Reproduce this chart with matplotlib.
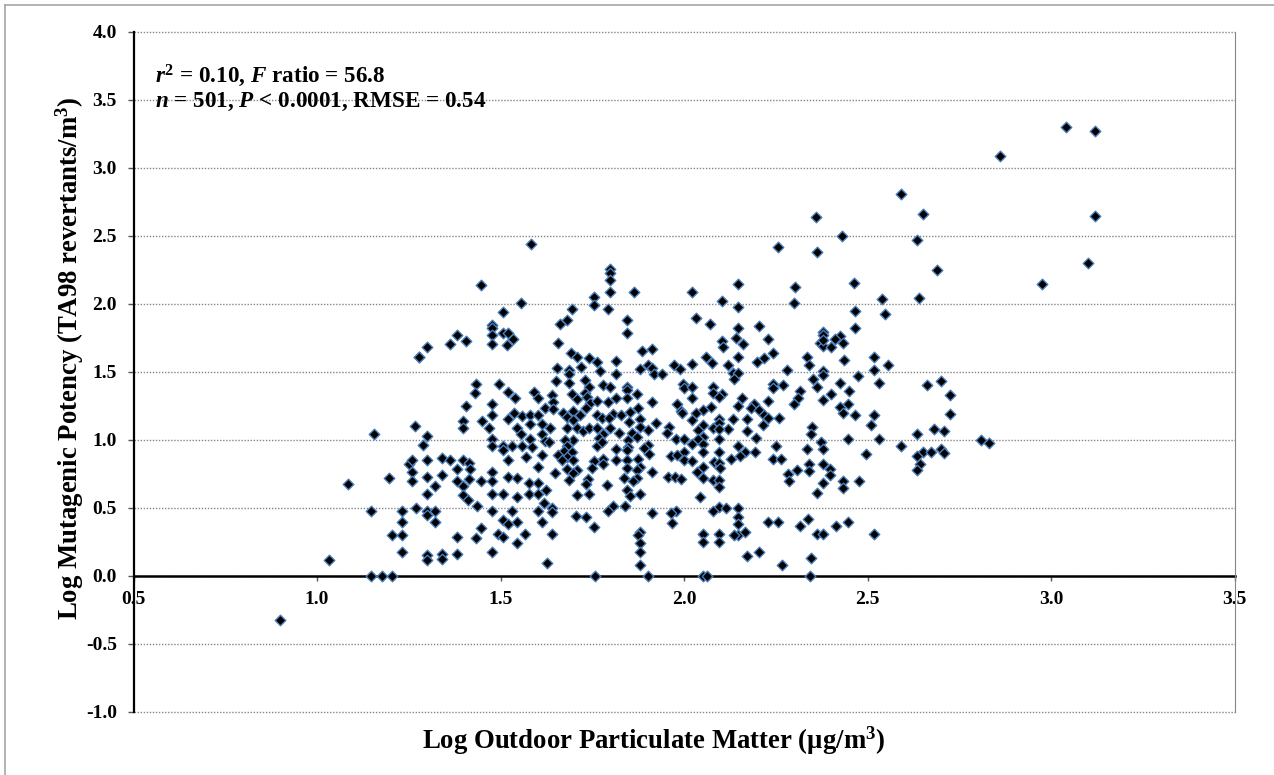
import matplotlib
matplotlib.use("Agg")
import matplotlib.pyplot as plt
from matplotlib.lines import Line2D

plt.rcParams['font.family'] = ['Liberation Serif', 'DejaVu Serif']
plt.rcParams['font.weight'] = 'bold'
plt.rcParams['mathtext.fontset'] = 'custom'
plt.rcParams['mathtext.rm'] = 'Liberation Serif:bold'
plt.rcParams['mathtext.bf'] = 'Liberation Serif:bold'
plt.rcParams['mathtext.it'] = 'Liberation Serif:italic:bold'

# roughly left to right in three blocks
log_pm_low = [1.034, 1.147, 1.176, 1.205, 1.147, 1.231, 1.231, 1.205, 1.231, 1.231, 1.084, 1.195, 1.25, 1.156,
    1.584, 1.447, 1.799, 1.799, 1.799, 1.799, 1.864, 1.756, 1.756, 1.557, 1.695, 1.793, 1.506, 1.846, 1.681, 1.662, 1.846,
    1.478, 1.478, 1.478, 1.478, 1.508, 1.52, 1.533, 1.518, 1.381, 1.406, 1.362, 1.301, 1.279, 1.657,
    1.691, 1.708, 1.741, 1.763, 1.814, 1.886, 1.914, 1.719, 1.654, 1.687, 1.687, 1.771, 1.814, 1.88, 1.902, 1.914, 1.919, 1.941, 1.973, 1.989,
    1.65, 1.73, 1.687, 1.741, 1.778, 1.799, 1.846, 1.846, 1.998, 2.0, 1.433, 1.497, 1.52, 1.431,
    1.591, 1.603, 1.54, 1.641, 1.644, 1.694, 1.708, 1.73, 1.737, 1.744, 1.763, 1.794, 1.814, 1.846, 1.871,
    1.914, 1.981, 1.406, 1.478, 1.62, 1.644, 1.876, 1.733, 1.991, 1.994,
    1.478, 1.538, 1.558, 1.58, 1.603, 1.671, 1.698, 1.717, 1.763, 1.807, 1.827, 1.853,
    1.399, 1.45, 1.52, 1.58, 1.614, 1.68, 1.698, 1.776, 1.797, 1.88, 1.925, 1.267,
    1.399, 1.47, 1.544, 1.635, 1.68, 1.708, 1.724, 1.741, 1.763, 1.799, 1.851, 1.903, 1.96, 1.88,
    1.614, 1.556, 1.954, 1.301, 1.823, 1.778, 1.857, 1.871,
    1.478, 1.58, 1.698, 1.769, 1.848, 1.977, 2.0, 1.621,
    1.288, 1.478, 1.506, 1.532, 1.558, 1.585, 1.633, 1.676, 1.68, 1.763, 1.776, 1.848, 1.903,
    1.506, 1.674, 1.814, 1.846, 1.892, 2.0, 1.569, 1.614, 1.657, 1.694, 1.905, 1.965, 1.982,
    1.341, 1.362, 1.399, 1.301, 1.258, 1.52, 1.68, 1.667, 1.698, 1.756, 1.778, 1.814, 1.846, 1.875, 2.0,
    1.415, 1.778, 1.748, 1.603, 1.417, 1.381, 1.682, 1.846, 1.88, 1.871, 1.709,
    1.478, 1.258, 1.648, 1.341, 1.912, 1.698, 1.301, 1.52, 1.544, 1.837, 1.871, 1.957, 1.975, 1.992,
    1.258, 1.381, 1.415, 1.447, 1.478, 1.687, 1.739, 1.862, 1.579, 1.603, 1.322, 1.399, 1.733, 1.789, 1.846, 1.623,
    1.301, 1.478, 1.506, 1.579, 1.603, 1.399, 1.708, 1.741, 1.853, 1.88, 1.544, 1.412, 1.619,
    1.436, 1.269, 1.301, 1.301, 1.322, 1.478, 1.532, 1.603, 1.639, 1.639, 1.807, 1.793, 1.839, 1.914, 1.977, 1.965,
    1.706, 1.733, 1.322, 1.506, 1.52, 1.544, 1.614, 1.966, 1.756, 1.447, 1.493, 1.506, 1.567, 1.641, 1.88, 1.876, 1.88,
    1.381, 1.432, 1.544, 1.478, 1.88, 1.381, 1.301, 1.301, 1.341, 1.341, 1.628, 1.88, 1.757, 1.903, 0.90, 1.277]
log_mut_low = [0.115, 0.0, 0.0, 0.0, 0.48, 0.48, 0.40, 0.30, 0.30, 0.18, 0.676, 0.718, 0.82, 1.044,
    2.444, 2.14, 2.255, 2.225, 2.18, 2.088, 2.088, 2.05, 1.993, 2.01, 1.96, 1.96, 1.94, 1.882, 1.882, 1.85, 1.784,
    1.845, 1.82, 1.772, 1.703, 1.784, 1.784, 1.745, 1.696, 1.772, 1.728, 1.703, 1.686, 1.61, 1.711,
    1.642, 1.608, 1.60, 1.576, 1.58, 1.654, 1.672, 1.539, 1.529, 1.515, 1.483, 1.51, 1.483, 1.52, 1.554, 1.527, 1.483, 1.483, 1.549, 1.522,
    1.436, 1.441, 1.417, 1.392, 1.407, 1.392, 1.392, 1.368, 1.412, 1.38, 1.409, 1.412, 1.355, 1.348,
    1.35, 1.306, 1.309, 1.331, 1.282, 1.336, 1.301, 1.348, 1.319, 1.27, 1.284, 1.277, 1.309, 1.306, 1.338,
    1.277, 1.267, 1.252, 1.265, 1.238, 1.228, 1.238, 1.238, 1.216, 1.2,
    1.184, 1.199, 1.179, 1.184, 1.184, 1.196, 1.211, 1.184, 1.184, 1.189, 1.184, 1.206,
    1.137, 1.137, 1.152, 1.12, 1.12, 1.172, 1.147, 1.159, 1.159, 1.152, 1.127, 1.105,
    1.09, 1.088, 1.086, 1.086, 1.086, 1.09, 1.069, 1.09, 1.086, 1.086, 1.135, 1.074, 1.098, 1.098,
    1.047, 1.047, 1.049, 1.032, 1.049, 1.042, 1.054, 1.025,
    1.005, 1.005, 1.0, 1.012, 1.0, 1.005, 1.005, 0.993,
    0.963, 0.958, 0.958, 0.958, 0.958, 0.949, 0.985, 1.0, 0.958, 0.958, 0.988, 0.951, 0.963,
    0.926, 0.922, 0.931, 0.926, 0.939, 0.914, 0.877, 0.89, 0.89, 0.909, 0.895, 0.88, 0.89,
    0.865, 0.85, 0.853, 0.85, 0.85, 0.85, 0.877, 0.853, 0.853, 0.846, 0.86, 0.85, 0.853, 0.858, 0.853,
    0.828, 0.821, 0.797, 0.799, 0.784, 0.784, 0.787, 0.792, 0.804, 0.779, 0.779,
    0.767, 0.767, 0.76, 0.745, 0.762, 0.755, 0.73, 0.728, 0.72, 0.72, 0.72, 0.728, 0.73, 0.711,
    0.701, 0.701, 0.711, 0.701, 0.701, 0.706, 0.711, 0.696, 0.681, 0.686, 0.664, 0.662, 0.674, 0.667, 0.632, 0.63,
    0.605, 0.605, 0.605, 0.605, 0.605, 0.596, 0.593, 0.605, 0.588, 0.605, 0.578, 0.556, 0.539,
    0.517, 0.5, 0.48, 0.448, 0.48, 0.48, 0.48, 0.48, 0.498, 0.473, 0.515, 0.48, 0.515, 0.461, 0.48, 0.461,
    0.444, 0.436, 0.399, 0.412, 0.382, 0.399, 0.399, 0.387, 0.363, 0.355, 0.309, 0.287, 0.306, 0.306, 0.326, 0.301, 0.245,
    0.287, 0.277, 0.245, 0.179, 0.179, 0.164, 0.154, 0.118, 0.164, 0.123, 0.095, 0.083, 0.0, 0.0, -0.32, 1.608]

log_pm_high = [2.431, 2.634, 2.255, 2.362, 2.69, 2.146, 2.462, 2.302, 2.021, 2.539, 2.641, 2.104, 2.299, 2.146, 2.466, 2.548, 2.033, 2.072, 2.204, 2.146, 2.466,
    2.38, 2.38, 2.371, 2.38, 2.38, 2.425, 2.411, 2.432, 2.4, 2.142, 2.23, 2.104, 2.162, 2.107, 2.243, 2.334, 2.06, 2.146, 2.519, 2.218, 2.437, 2.2, 2.076, 2.021, 2.121, 2.341, 2.556,
    2.28, 2.519, 2.38, 2.38, 2.133, 2.148, 2.137, 2.475, 2.352, 2.7, 2.425, 2.531, 2.663, 2.243, 2.269, 2.362, 2.243, 2.021, 2.078, 2.316, 2.449, 2.078, 2.104, 2.725, 2.096, 2.4, 2.021, 2.157, 2.31, 2.23, 2.38, 2.301, 2.446, 2.146, 2.074, 2.191, 2.182, 2.425, 2.203, 2.053, 2.033, 2.434, 2.466, 2.519, 2.725, 2.218,
    2.096, 2.133, 2.171, 2.228, 2.26, 2.021, 2.509, 2.214, 2.096, 2.053, 2.35, 2.121, 2.039, 2.078, 2.096, 2.171, 2.682, 2.708, 2.346, 2.634, 2.053, 2.196, 2.096, 2.039, 2.446, 2.53,
    2.021, 2.053, 2.372, 2.146, 2.252, 2.591, 2.38, 2.336, 2.166, 2.193, 2.053, 2.096, 2.495, 2.652, 2.672, 2.699, 2.709, 2.634,
    2.153, 2.127, 2.243, 2.264, 2.021, 2.083, 2.096, 2.341, 2.38, 2.053, 2.098, 2.643, 2.634, 2.398, 2.341, 2.307, 2.284, 2.035, 2.398, 2.053, 2.078, 2.096, 2.286, 2.434, 2.477, 2.38, 2.096, 2.434, 2.362, 2.044,
    2.096, 2.078, 2.114, 2.146, 2.146, 2.146, 2.146, 2.137, 2.166, 2.23, 2.255, 2.337, 2.316, 2.413, 2.448, 2.053, 2.053, 2.096, 2.096, 2.362, 2.38, 2.519, 2.171, 2.204, 2.345, 2.268, 2.053, 2.062, 2.343]
log_mut_high = [2.5, 2.468, 2.417, 2.382, 2.25, 2.147, 2.157, 2.127, 2.086, 2.034, 2.042, 2.022, 2.007, 1.978, 1.951, 1.929, 1.897, 1.853, 1.841, 1.821, 1.821,
    1.797, 1.772, 1.711, 1.691, 1.735, 1.767, 1.74, 1.716, 1.686, 1.748, 1.743, 1.73, 1.706, 1.681, 1.642, 1.613, 1.613, 1.613, 1.61, 1.6, 1.586, 1.571, 1.564, 1.556, 1.551, 1.551, 1.551,
    1.512, 1.512, 1.51, 1.478, 1.495, 1.49, 1.446, 1.47, 1.446, 1.436, 1.422, 1.417, 1.404, 1.412, 1.404, 1.387, 1.38, 1.392, 1.392, 1.363, 1.36, 1.343, 1.338, 1.328, 1.314, 1.338, 1.306, 1.311, 1.306, 1.284, 1.292, 1.262, 1.265, 1.248, 1.245, 1.265, 1.238, 1.24, 1.22, 1.22, 1.196, 1.201, 1.181, 1.181, 1.189, 1.184,
    1.154, 1.152, 1.152, 1.164, 1.162, 1.147, 1.108, 1.108, 1.123, 1.11, 1.098, 1.078, 1.074, 1.086, 1.078, 1.069, 1.083, 1.069, 1.044, 1.047, 1.025, 1.017, 1.005, 1.005, 1.005, 1.005,
    0.971, 0.971, 0.983, 0.958, 0.958, 0.956, 0.931, 0.931, 0.914, 0.909, 0.914, 0.914, 0.897, 0.909, 0.909, 0.934, 0.907, 0.882,
    0.882, 0.858, 0.858, 0.858, 0.848, 0.836, 0.833, 0.821, 0.821, 0.804, 0.797, 0.821, 0.779, 0.784, 0.775, 0.779, 0.75, 0.767, 0.743, 0.718, 0.706, 0.706, 0.701, 0.701, 0.701, 0.686, 0.657, 0.645, 0.608, 0.583,
    0.51, 0.48, 0.498, 0.498, 0.436, 0.382, 0.301, 0.301, 0.326, 0.4, 0.4, 0.419, 0.368, 0.368, 0.4, 0.309, 0.252, 0.309, 0.252, 0.306, 0.306, 0.306, 0.15, 0.179, 0.13, 0.083, 0.0, 0.0, 0.0]

# the few far out ones at the top right
log_pm_extra = [3.04, 3.12, 2.86, 2.59, 2.65, 2.36, 3.12, 3.10, 2.975, 2.81, 2.83]
log_mut_extra = [3.30, 3.27, 3.09, 2.81, 2.665, 2.64, 2.65, 2.30, 2.15, 1.0, 0.98]

x_ticks = [0.5, 1.0, 1.5, 2.0, 2.5, 3.0, 3.5]
y_ticks = [-1.0, -0.5, 0.0, 0.5, 1.0, 1.5, 2.0, 2.5, 3.0, 3.5, 4.0]

W, H = 1274, 775
fig = plt.figure(figsize=(W / 100, H / 100), dpi=100)
ax = fig.add_axes([133.5 / W, 1 - 712 / H, 1101 / W, 680 / H])

ax.scatter(log_pm_low + log_pm_high + log_pm_extra, log_mut_low + log_mut_high + log_mut_extra,
           marker="D", s=29, c="black", edgecolors="#4a7ebb", linewidths=1.0, zorder=3, clip_on=False)

# has to come before the tick setup, moving a spine resets the ticks
ax.spines["bottom"].set_position(("data", 0))
ax.spines["bottom"].set_linewidth(1.8)
ax.spines["bottom"].set_color("black")
ax.spines["bottom"].set_zorder(2)
ax.spines["left"].set_linewidth(1.6)
ax.spines["left"].set_color("black")
ax.spines["top"].set_visible(False)
ax.spines["right"].set_color("#868686")
ax.spines["right"].set_linewidth(0.8)

ax.set_xlim(0.5, 3.5)
ax.set_ylim(-1.0, 4.0)
ax.set_xticks(x_ticks)
ax.set_yticks(y_ticks)
ax.set_xticklabels([f"{v:.1f}" for v in x_ticks])
ax.set_yticklabels([f"{v:.1f}" for v in y_ticks])
ax.tick_params(axis="y", length=4.5, width=1, color="#555555", pad=7.5, labelsize=14)
ax.tick_params(axis="x", direction="out", length=3.5, width=1, color="#555555", pad=7.5, labelsize=14)
ax.grid(axis="y", color="#868686", linestyle=(0, (1, 1.2)), linewidth=1.0, zorder=1)
ax.set_axisbelow(True)
for line in ax.get_ygridlines():
    line.set_clip_on(False)

ax.text(155 / W, 1 - 76 / H, r"$\mathit{r}^{\mathbf{2}}$ = 0.10, $\mathit{F}$ ratio = 56.8",
        transform=fig.transFigure, fontsize=16.7, va="center", zorder=4)
ax.text(155 / W, 1 - 102 / H, r"$\mathit{n}$ = 501, $\mathit{P}$ < 0.0001, RMSE = 0.54",
        transform=fig.transFigure, fontsize=16.7, va="center", zorder=4)

fig.text(654 / W, 1 - 741 / H, r"Log Outdoor Particulate Matter (µg/m$^{\mathbf{3}}$)",
         fontsize=19.3, ha="center", va="center")
fig.text(70 / W, 1 - 358 / H, r"Log Mutagenic Potency (TA98 revertants/m$^{\mathbf{3}}$)",
         fontsize=19.3, ha="center", va="center", rotation=90)

fig.add_artist(Line2D([5 / W, 5 / W], [0, 1 - 5 / H], color="#a6a6a6", linewidth=1.2))
fig.add_artist(Line2D([5 / W, 1], [1 - 5 / H, 1 - 5 / H], color="#a6a6a6", linewidth=1.2))

fig.savefig("out.png", dpi=100)
